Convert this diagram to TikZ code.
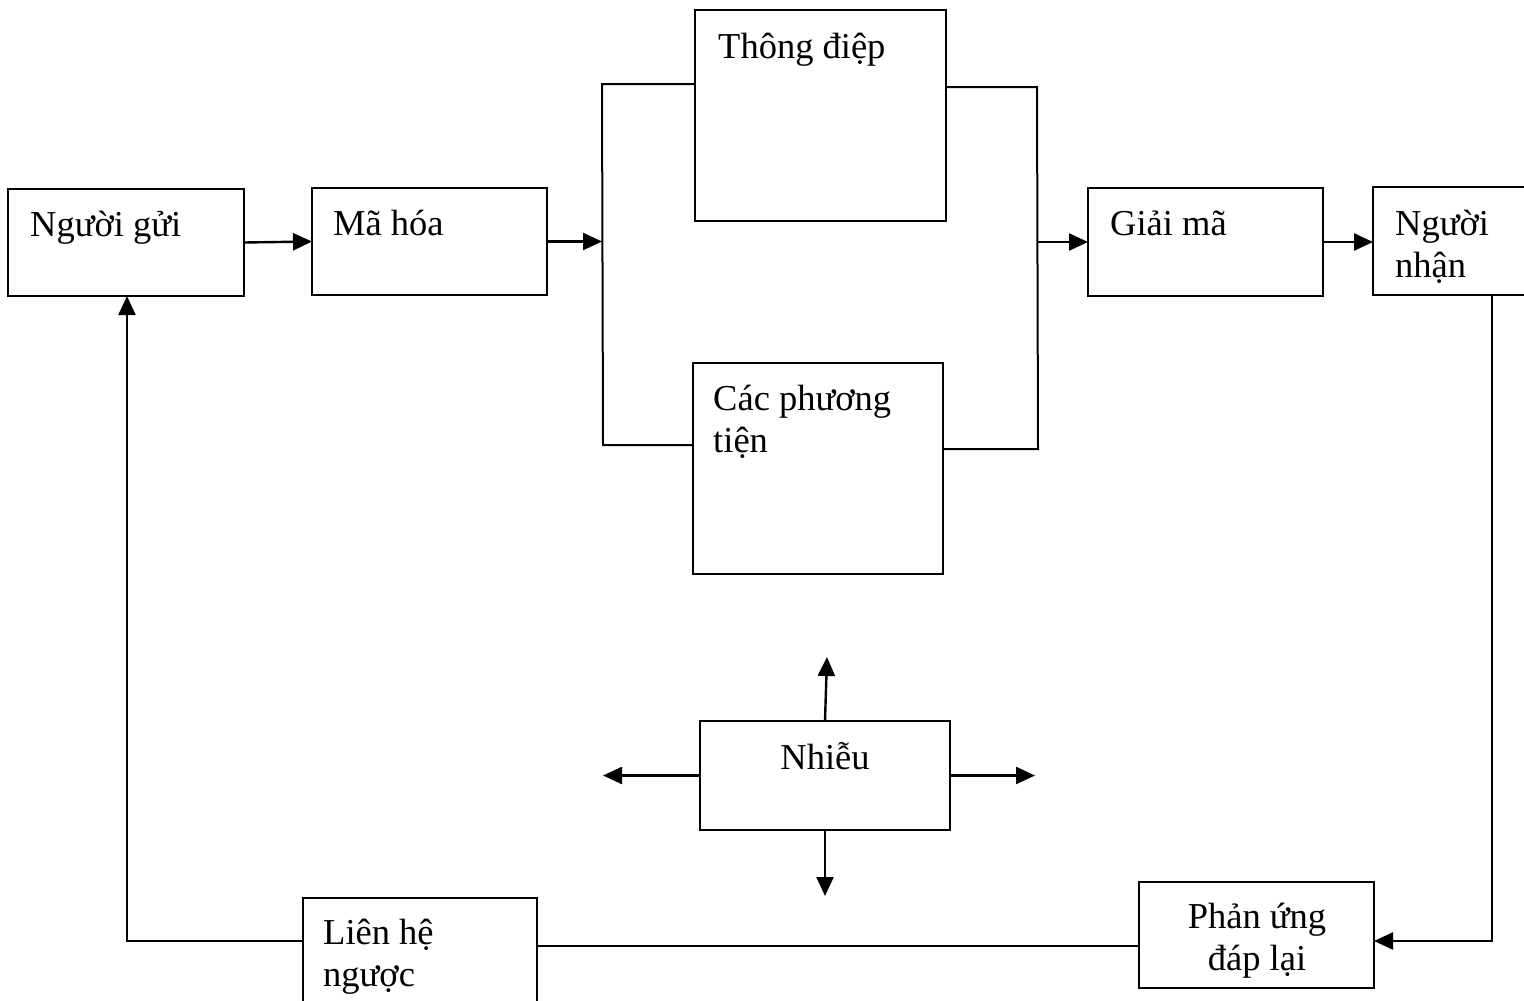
\documentclass[tikz,border=0pt]{standalone}
\usepackage{fontspec}
\setmainfont{Liberation Serif}
\usetikzlibrary{arrows.meta,calc}

\begin{document}
\begin{tikzpicture}[x=1pt,y=-1pt,
  box/.style={draw, line width=2pt, inner sep=0pt, outer sep=0pt, anchor=north west},
  txt/.style={font=\fontsize{36.5}{42}\selectfont, inner sep=0pt, anchor=base west},
  ctxt/.style={font=\fontsize{36.5}{42}\selectfont, inner sep=0pt, anchor=base},
  arrow/.style={line width=2.4pt, -{Triangle[length=19pt,width=17pt]}},
  bline/.style={line width=2pt}]

\useasboundingbox (0,0) rectangle (1524,1001);

% boxes
\node[box, minimum width=236, minimum height=107] (sender) at (8,189) {};
\node[box, minimum width=235, minimum height=107] (enc)    at (312,188) {};
\node[box, minimum width=251, minimum height=211] (msg)    at (695,10) {};
\node[box, minimum width=250, minimum height=211] (media)  at (693,363) {};
\node[box, minimum width=235, minimum height=108] (dec)    at (1088,188) {};
\node[box, minimum width=170, minimum height=108] (recv)   at (1373,187) {};
\node[box, minimum width=250, minimum height=109] (noise)  at (700,721) {};
\node[box, minimum width=234, minimum height=125] (fb)     at (303,898) {};
\node[box, minimum width=235, minimum height=106] (resp)   at (1139,882) {};

% labels
\node[txt] (tsender) at (30,236) {Người gửi};
\node[txt] (tenc)    at (333,235) {Mã hóa};
\node[txt] (tmsg)    at (718,58) {Thông điệp};
\node[txt] (tmedia1) at (713,410) {Các phương};
\node[txt] (tmedia2) at (713,452) {tiện};
\node[txt] (tdec)    at (1110,235) {Giải mã};
\node[txt] (trecv1)  at (1395,235) {Người};
\node[txt] (trecv2)  at (1395,277) {nhận};
\node[ctxt] (tnoise) at (825,769) {Nhiễu};
\node[txt] (tfb1)    at (323,944) {Liên hệ};
\node[txt] (tfb2)    at (323,986) {ngược};
\node[ctxt] (tresp1) at (1257,928) {Phản ứng};
\node[ctxt] (tresp2) at (1257,970) {đáp lại};

% bracket corners and bends
\coordinate (LT) at (602,84);
\coordinate (LB) at (603,445);
\coordinate (RT) at (1037,87);
\coordinate (RB) at (1038,449);
\coordinate (RR) at (1492,941);
\coordinate (LL) at (127,941);
\coordinate (FBL) at (840,946);

% main chain
\draw[arrow] (sender.east) -- (enc.west);
\draw[arrow] (enc.east) -- (enc.east -| LT);
\draw[bline] (msg.west |- LT) -- (LT) -- (LB) -- (media.west |- LB);
\draw[bline] (msg.east |- RT) -- (RT) -- (RB) -- (media.east |- RB);
\draw[arrow] (dec.west -| RT) -- (dec.west);
\draw[arrow] (dec.east) -- (recv.west |- dec.east);

% feedback loop
\draw[arrow] (recv.south -| RR) -- (RR) -- (resp.east |- RR);
\draw[bline] (resp.west |- FBL) -- (fb.east |- FBL);
\draw[arrow] (fb.west |- LL) -- (LL) -- (LL |- sender.south);

% noise
\coordinate (nU) at (827,657);
\coordinate (nD) at (825,896);
\coordinate (nL) at (603,778);
\coordinate (nR) at (1035,778);
\draw[arrow] (noise.north) -- (nU);
\draw[arrow] (noise.south) -- (nD);
\draw[arrow] (noise.west) -- (nL |- noise.west);
\draw[arrow] (noise.east) -- (nR |- noise.east);

\end{tikzpicture}
\end{document}
